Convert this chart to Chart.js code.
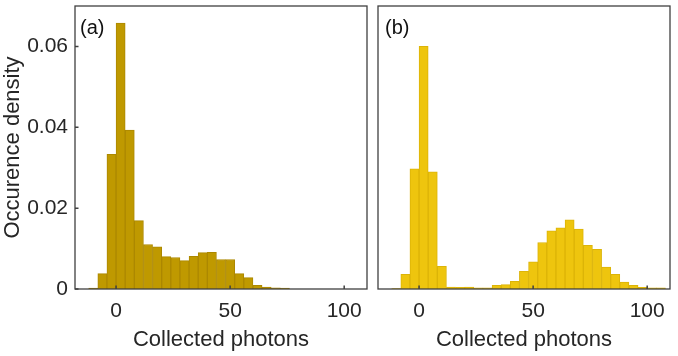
<!DOCTYPE html>
<html lang="en">
<head>
    <meta charset="UTF-8">
    <title>Collected photons histograms</title>
    <script src="https://cdn.jsdelivr.net/npm/chart.js"></script>
    <style>
        body { margin: 0; background: #fff; }
        .wrap { position: relative; width: 678px; height: 356px; }
        canvas { position: absolute; top: 0; }
        #chartA { left: 0; }
        #chartB { left: 370px; }
    </style>
</head>
<body>
    <div class="wrap">
        <canvas id="chartA" width="370" height="356"></canvas>
        <canvas id="chartB" width="308" height="356"></canvas>
    </div>

    <script>
        // bin centres (bin width 4 photons)
        const binsA = [-10, -6, -2, 2, 6, 10, 14, 18, 22, 26, 30, 34, 38, 42, 46, 50, 54, 58, 62, 66, 70, 74];
        const densityA = [0.0002, 0.0038, 0.0333, 0.0658, 0.0393, 0.0169, 0.0110, 0.0104, 0.0080, 0.0078, 0.0070,
                          0.0081, 0.0090, 0.0091, 0.0073, 0.0073, 0.0038, 0.0028, 0.0009, 0.0005, 0.0003, 0.0002];

        const binsB = [-10, -6, -2, 2, 6, 10, 14, 18, 22, 26, 30, 34, 38, 42, 46, 50, 54, 58, 62, 66, 70, 74, 78, 82,
                       86, 90, 94, 98, 102, 106];
        const densityB = [0.0001, 0.0036, 0.0297, 0.0600, 0.0290, 0.0056, 0.0005, 0.0004, 0.0005, 0.0003, 0.0003,
                          0.0009, 0.0011, 0.0019, 0.0044, 0.0067, 0.0115, 0.0144, 0.0151, 0.0171, 0.0148, 0.0108,
                          0.0098, 0.0054, 0.0036, 0.0017, 0.0009, 0.0004, 0.0003, 0.0003];

        const xTicks = [0, 50, 100];
        const yTicks = [0, 0.02, 0.04, 0.06];
        const xRange = [-18, 110];
        const yRange = [0, 0.07];

        const FONT = "'Liberation Sans', Arial, sans-serif";
        const TEXT = '#262626';

        // frame, inward tick marks and panel letter
        function framePlugin(letter, showYTicks) {
            return {
                id: 'frame',
                afterDraw(chart) {
                    const ctx = chart.ctx;
                    const a = chart.chartArea;
                    const xs = chart.scales.x, ys = chart.scales.y;
                    ctx.save();
                    ctx.strokeStyle = '#404040';
                    ctx.lineWidth = 1.3;
                    ctx.strokeRect(a.left, a.top, a.right - a.left, a.bottom - a.top);
                    ctx.lineWidth = 1.5;
                    ctx.beginPath();
                    xTicks.forEach(v => {
                        const px = xs.getPixelForValue(v);
                        ctx.moveTo(px, a.bottom);
                        ctx.lineTo(px, a.bottom - 3.5);
                    });
                    if (showYTicks) {
                        yTicks.forEach(v => {
                            const py = ys.getPixelForValue(v);
                            ctx.moveTo(a.left, py);
                            ctx.lineTo(a.left + 3.5, py);
                        });
                    }
                    ctx.stroke();
                    ctx.fillStyle = '#111';
                    ctx.font = '20px ' + FONT;
                    ctx.textBaseline = 'middle';
                    ctx.textAlign = 'left';
                    ctx.fillText(letter, a.left + (showYTicks ? 5 : 7), a.top + 22);
                    ctx.restore();
                }
            };
        }

        function makeChart(id, bins, values, fill, edge, letter, withY) {
            const ctx = document.getElementById(id).getContext('2d');
            return new Chart(ctx, {
                type: 'bar',
                data: {
                    datasets: [{
                        data: bins.map((b, i) => ({ x: b, y: values[i] })),
                        backgroundColor: fill,
                        borderColor: edge,
                        borderWidth: 1,
                        barPercentage: 1,
                        categoryPercentage: 1
                    }]
                },
                options: {
                    responsive: false,
                    animation: false,
                    layout: { padding: { top: 6, right: withY ? 3 : 8, left: withY ? 0 : 8, bottom: 0 } },
                    plugins: { legend: { display: false }, tooltip: { enabled: false } },
                    scales: {
                        x: {
                            type: 'linear',
                            offset: false,
                            min: xRange[0],
                            max: xRange[1],
                            afterBuildTicks: s => { s.ticks = xTicks.map(v => ({ value: v })); },
                            afterFit: s => { s.height = 67; s.paddingLeft = 0; s.paddingRight = 0; },
                            grid: { display: false, drawTicks: false },
                            border: { display: false },
                            ticks: { color: TEXT, padding: 10, font: { family: FONT, size: 21, lineHeight: 1.2 } },
                            title: {
                                display: true, text: 'Collected photons', color: TEXT,
                                padding: { top: 0, bottom: 3 },
                                font: { family: FONT, size: 22, lineHeight: 1.2 }
                            }
                        },
                        y: {
                            display: withY,
                            min: yRange[0],
                            max: yRange[1],
                            afterBuildTicks: s => { s.ticks = yTicks.map(v => ({ value: v })); },
                            afterFit: s => { s.width = withY ? 75 : 0; s.paddingTop = 0; s.paddingBottom = 0; },
                            grid: { display: false, drawTicks: false },
                            border: { display: false },
                            ticks: {
                                color: TEXT, padding: 7,
                                font: { family: FONT, size: 21, lineHeight: 1.2 },
                                callback: v => v === 0 ? '0' : v.toFixed(2)
                            },
                            title: {
                                display: true, text: 'Occurence density', color: TEXT,
                                padding: { top: 0, bottom: 0 },
                                font: { family: FONT, size: 22, lineHeight: 1.2 }
                            }
                        }
                    }
                },
                plugins: [framePlugin(letter, withY)]
            });
        }

        makeChart('chartA', binsA, densityA, 'rgb(191,153,0)', 'rgb(172,136,0)', '(a)', true);
        makeChart('chartB', binsB, densityB, 'rgb(238,197,14)', 'rgb(220,180,8)', '(b)', false);
    </script>
</body>
</html>
